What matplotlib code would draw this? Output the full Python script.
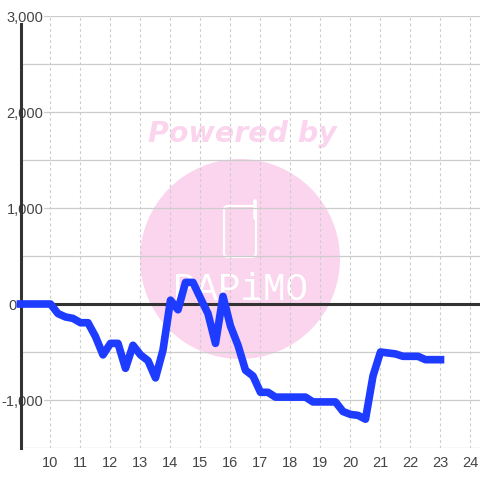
import matplotlib
matplotlib.use('Agg')
import matplotlib.pyplot as plt
from matplotlib.lines import Line2D
from matplotlib.patches import Circle, FancyBboxPatch

hours = [9, 9.25, 9.5, 9.75, 10, 10.25, 10.5, 10.75, 11, 11.25, 11.5, 11.75, 12, 12.25, 12.5, 12.75,
         13, 13.25, 13.5, 13.75, 14, 14.25, 14.5, 14.75, 15, 15.25, 15.5, 15.75, 16, 16.25, 16.5, 16.75,
         17, 17.25, 17.5, 17.75, 18, 18.25, 18.5, 18.75, 19, 19.25, 19.5, 19.75, 20, 20.25, 20.5, 20.75,
         21, 21.25, 21.5, 21.75, 22, 22.25, 22.5, 22.75, 23]
profit = [0, 0, 0, 0, 0, -100, -135, -150, -195, -195, -340, -530, -410, -410, -670, -430,
          -530, -590, -770, -480, 40, -60, 225, 225, 60, -100, -410, 80, -230, -430, -690, -750,
          -920, -920, -970, -970, -970, -970, -970, -1020, -1020, -1020, -1020, -1120, -1150, -1160, -1200, -750,
          -500, -510, -520, -545, -545, -545, -580, -580, -580]

yticks = [-1000, 0, 1000, 2000, 3000]
yminor = [-1500, -500, 500, 1500, 2500]
xticks = list(range(10, 25))

PINK = '#fbd5ee'
GRID = '#cccccc'

plt.rcParams['font.family'] = ['Liberation Sans', 'DejaVu Sans']

fig = plt.figure(figsize=(4.8, 4.8), dpi=100)
# 9 a 24.3 en x, -1500 a 3000 en y
ax = fig.add_axes([20.5 / 480, 32 / 480, 459.5 / 480, 432 / 480])
ax.patch.set_visible(False)
ax.set_xlim(9, 24.317)
ax.set_ylim(-1500, 3000)

# marca de agua, en pixeles de la figura
fig.add_artist(Circle((240, 221), 100, transform=None, fc=PINK, ec='none', zorder=-5))
fig.text(242 / 480, 346 / 480, 'Powered by', color=PINK, fontsize=20.5, family='DejaVu Sans',
         weight='bold', style='italic', ha='center', va='center', zorder=-4)
fig.add_artist(FancyBboxPatch((224, 223), 32, 51, boxstyle='round,pad=0,rounding_size=4', transform=None,
                              fc='none', ec='white', lw=1.6, zorder=-4))
fig.add_artist(Line2D([254.5, 254.5], [262, 279], transform=None, color='white', lw=2.6,
                      solid_capstyle='round', zorder=-4))
fig.text(240 / 480, 190 / 480, 'PAPiMO', color='white', fontsize=27, family='Liberation Mono',
         ha='center', va='center', zorder=-4)

ax.set_xticks(xticks)
ax.set_yticks(yticks)
ax.set_yticklabels([f'{v:,}' for v in yticks])
ax.set_yticks(yminor, minor=True)
ax.set_axisbelow('line')
ax.grid(axis='x', color=GRID, lw=0.8, ls=(0, (2.5, 2.5)))
ax.grid(axis='y', which='both', color=GRID, lw=0.9)
ax.tick_params(axis='both', which='both', length=0, labelsize=10.5, labelcolor='#444444')
ax.tick_params(axis='x', pad=6)

# las etiquetas van dentro del area, menos el cero
for tick, v in zip(ax.yaxis.get_major_ticks(), yticks):
    if v == 0:
        tick.set_pad(3)
    else:
        tick.set_pad(-16.5)
        tick.label1.set_bbox(dict(fc='white', ec='none', pad=0.5))

for side in ['top', 'right', 'bottom']:
    ax.spines[side].set_visible(False)
ax.spines['left'].set_color('#333333')
ax.spines['left'].set_linewidth(2.2)
ax.spines['left'].set_bounds(-1500, 2915)

ax.axhline(0, color='#333333', lw=2.2, zorder=1.8)
ax.plot(hours, profit, color='#1e3cff', lw=5.5, solid_capstyle='projecting', solid_joinstyle='round',
        clip_on=False, zorder=3)

fig.savefig('out.png', dpi=100)
